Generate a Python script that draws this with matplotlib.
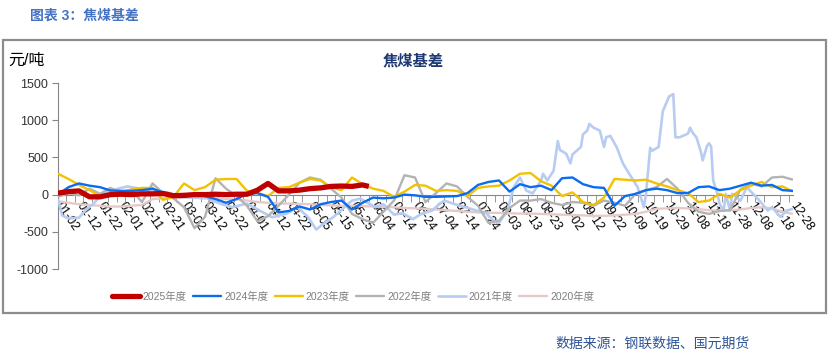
import matplotlib.pyplot as plt
from matplotlib.patches import Rectangle
from matplotlib.lines import Line2D

plt.rcParams['font.family'] = ['Liberation Sans', 'Noto Sans CJK SC', 'DejaVu Sans']
plt.rcParams['axes.unicode_minus'] = False

# category index of each date label (dates without any data are skipped)
date_labels = ["01-02", "01-12", "01-22", "02-01", "02-11", "02-21", "03-02", "03-12",
               "03-22", "04-01", "04-12", "04-22", "05-05", "05-15", "05-25", "06-04",
               "06-14", "06-24", "07-04", "07-14", "07-24", "08-03", "08-13", "08-23",
               "09-02", "09-12", "09-22", "10-09", "10-19", "10-29", "11-08", "11-18",
               "11-28", "12-08", "12-18", "12-28"]
label_pos = list(range(0, 351, 10))
grid = list(range(0, 351, 5))

x25 = list(range(0, 146, 5)) + [148]
y25 = [20, 40, 50, -30, -30, 0, 5, 0, 10, 10, 15, -15, -10, 0, 0, 5, 0, 5, 5, 60,
       150, 50, 50, 60, 80, 90, 110, 115, 110, 130, 110]

y24 = [0, 100, 150, 120, 100, 55, 50, 50, 60, 80, 30, -30, -30, 0, -20, -60, -110, -60,
       10, 20, -30, -240, -220, -160, -200, -130, -100, -80, -200, -110, -40, -50, -40, 0,
       -10, -30, -30, -25, -20, 20, 130, 170, 190, 40, 140, 100, 120, 60, 220, 230, 140,
       100, 90, -150, -20, 10, 60, 80, 60, 20, 20, 100, 110, 60, 80, 120, 160, 120, 130,
       60, 50]

y23 = [280, 210, 130, 60, -20, -10, 30, 70, 90, 90, -70, -30, 150, 60, 100, 200, 210,
       210, 50, 20, -20, 90, 100, 160, 210, 190, 100, 60, 230, 140, 80, 50, -30, 40, 130,
       120, 50, 60, 50, -20, 90, 110, 120, 190, 280, 290, 180, 120, -20, 30, -100, -140,
       -40, 210, 200, 190, 200, 150, 110, 60, 20, -100, -80, 10, -40, 60, 120, 170, 100,
       110, 40]

y22 = [-30, 20, -10, 80, 10, 90, 20, 60, -100, 150, 20, -50, -170, -450, -300, 220, 80,
       -20, -150, -360, -290, -150, 0, 160, 230, 200, 80, -40, -260, -330, -380, -230, -80,
       260, 230, -100, 20, 150, 110, -30, -150, -380, -350, -180, -80, -80, -60, -110,
       -140, -100, -110, -150, -80, -110, -150, 10, 60, 100, 210, 80, -110, -230, -260,
       -220, -210, 70, 150, 110, 230, 240, 200]

x21 = [0, 2, 5, 10, 13, 17, 21, 26, 33, 39, 45, 52, 58, 64, 71, 77, 83, 90, 96, 102, 109,
       114, 119, 123, 126, 131, 136, 140, 144, 148, 151, 155, 160, 164, 169, 173, 178, 182,
       184, 189, 194, 200, 204, 207, 210, 214, 217, 220, 223, 226, 230, 231, 233, 236, 238,
       239, 242, 244, 245, 249, 250, 252, 253, 255, 258, 260, 261, 263, 266, 269, 272, 276,
       277, 279, 280, 282, 283, 286, 288, 291, 293, 294, 296, 300, 301, 302, 304, 306, 307,
       309, 310, 311, 312, 314, 315, 317, 318, 320, 321, 325, 328, 331, 334, 338, 340, 344,
       347, 350]
y21 = [-60, -280, -320, -310, -215, -120, 10, 60, 110, 80, 50, 30, -30, -40, -50, -120,
       -170, -120, -215, -305, -255, -170, -300, -470, -400, -305, -180, -80, -55, -120,
       -170, -130, -270, -250, -330, -260, -215, -120, -80, -130, -170, -220, -250, -340,
       -380, -215, 100, 230, 55, 15, 190, 280, 190, 320, 720, 600, 550, 420, 540, 640, 810,
       860, 950, 900, 860, 640, 770, 790, 640, 420, 280, 100, 10, -170, 10, 630, 590, 640,
       1120, 1320, 1350, 770, 770, 820, 900, 840, 770, 590, 460, 650, 690, 650, 190, 10,
       -120, -215, 10, -215, 10, -80, 100, 10, -80, -215, -170, -300, -215, -190]

y20 = [-90, -110, -130, -140, -150, -160, -160, -150, -140, -60, -50, -45, -40, -40, -40,
       -50, -60, -65, -80, -100, -110, -120, -120, -125, -130, -140, -145, -150, -150, -155,
       -160, -165, -170, -180, -185, -190, -200, -210, -220, -230, -240, -245, -245, -250,
       -255, -255, -260, -265, -270, -275, -280, -285, -285, -280, -270, -260, -230, -190,
       -185, -180, -185, -195, -210, -215, -210, -200, -180, -170, -185, -230, -260]

series = [
    ("2025年度", x25, y25, "#C00000", 3.8),
    ("2024年度", grid, y24, "#0A6CF0", 1.7),
    ("2023年度", grid, y23, "#F2C200", 1.7),
    ("2022年度", grid, y22, "#B3B3B3", 1.7),
    ("2021年度", x21, y21, "#B8CCF2", 1.9),
    ("2020年度", grid, y20, "#E6CACA", 1.7),
]

fig = plt.figure(figsize=(8.3, 3.58), dpi=100)
ax = fig.add_axes([58 / 830, 1 - 269 / 358, 735 / 830, 186 / 358])

handles = []
for k, (name, xs, ys, color, lw) in enumerate(reversed(series)):
    ax.plot(xs, ys, color=color, lw=lw, zorder=2 + k, solid_capstyle='butt')
for name, xs, ys, color, lw in series:
    handles.append(Line2D([], [], color=color, lw=lw, solid_capstyle='round'))

ax.set_xlim(0, 350)
ax.set_ylim(-1000, 1500)
ax.set_yticks([-1000, -500, 0, 500, 1000, 1500])
ax.tick_params(axis='y', direction='out', length=4, color='#868686', labelsize=9,
               labelcolor='#333333', pad=3)

ax.spines['top'].set_visible(False)
ax.spines['right'].set_visible(False)
ax.spines['left'].set_color('#868686')
ax.spines['bottom'].set_position(('data', 0))
ax.spines['bottom'].set_color('#868686')
ax.spines['bottom'].set_zorder(1)

ax.set_xticks(label_pos)
ax.set_xticklabels(date_labels, rotation=-56, ha='left', va='center',
                   rotation_mode='anchor', fontsize=9)
ax.set_xticks(list(range(0, 351, 4)), minor=True)
ax.tick_params(axis='x', which='major', length=0, pad=6)
ax.tick_params(axis='x', which='minor', length=5, color='#868686', direction='out')

ax.set_title("焦煤基差", fontsize=11, fontweight='bold', color='#1F3A73',
             family=['Noto Sans CJK SC'], x=(413 - 58) / 735, y=1.05)

fig.text(8 / 830, 1 - 60 / 358, "元/吨", fontsize=11.5, va='center', ha='left', color='black')

fig.legend(handles, [s[0] for s in series], loc='center', ncol=6,
           bbox_to_anchor=(353 / 830, 1 - 297 / 358), frameon=False, fontsize=7.5,
           handlelength=2.7, handletextpad=0.3, columnspacing=0.6, labelcolor='#7F7F7F')

fig.patches.append(Rectangle((3 / 830, 1 - 313 / 358), 823 / 830, 273 / 358,
                             transform=fig.transFigure, fill=False, ec='#8C8C8C', lw=1.6))

fig.text(30 / 830, 1 - 16 / 358, "图表 3：焦煤基差", fontsize=10, fontweight='bold',
         color='#4472C4', va='center', ha='left')
fig.text(750 / 830, 1 - 344 / 358, "数据来源：钢联数据、国元期货", fontsize=10,
         color='#2E5597', va='center', ha='right')

fig.savefig("out.png", dpi=100)
